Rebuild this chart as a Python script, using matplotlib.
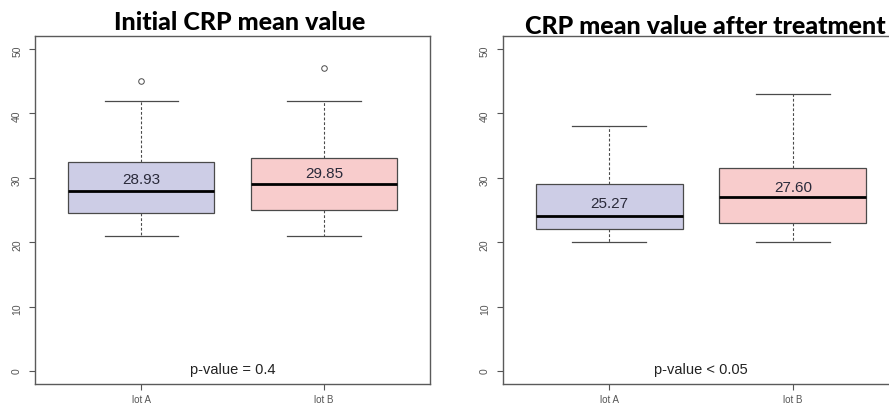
import matplotlib.pyplot as plt

# lot names and box statistics
lots = ['lot A', 'lot B']

init_low = [21, 21]
init_q1 = [24.5, 25]
init_med = [28, 29]
init_q3 = [32.5, 33]
init_high = [42, 42]
init_out = [[45], [47]]
init_mean = [28.93, 29.85]

after_low = [20, 20]
after_q1 = [22, 23]
after_med = [24, 27]
after_q3 = [29, 31.5]
after_high = [38, 43]
after_out = [[], []]
after_mean = [25.27, 27.60]

yticks = [0, 10, 20, 30, 40, 50]
fills = ['#cdcde6', '#f8cccc']
edge = '#4a4a4a'

plt.rcParams['font.family'] = ['Liberation Sans', 'DejaVu Sans']


def make_stats(low, q1, med, q3, high, out):
    stats = []
    for i in range(len(med)):
        stats.append({'whislo': low[i], 'q1': q1[i], 'med': med[i],
                      'q3': q3[i], 'whishi': high[i], 'fliers': out[i]})
    return stats


def draw_panel(ax, stats, means, ptext):
    bp = ax.bxp(stats, positions=[1, 2], widths=0.8, patch_artist=True,
                boxprops=dict(edgecolor=edge, linewidth=0.9),
                whiskerprops=dict(color=edge, linewidth=0.8, linestyle=(0, (2.5, 1.8))),
                capprops=dict(color=edge, linewidth=0.9),
                medianprops=dict(color='black', linewidth=2),
                flierprops=dict(marker='o', markersize=4, markerfacecolor='none',
                                markeredgecolor=edge, markeredgewidth=0.7),
                capwidths=0.4)
    for patch, c in zip(bp['boxes'], fills):
        patch.set_facecolor(c)

    for i, m in enumerate(means):
        ax.text(i + 1, m + 0.9, '%.2f' % m, ha='center', va='center',
                fontsize=11, color='#2a2a3a')
    ax.text(1.5, 0.3, ptext, ha='center', va='center', fontsize=10.5, color='#222222')

    ax.set_xlim(0.42, 2.58)
    ax.set_ylim(-2, 52)
    ax.set_yticks(yticks)
    ax.set_xticks([1, 2])
    ax.set_xticklabels(lots)
    ax.tick_params(axis='y', labelrotation=90, length=4.3, pad=5, labelsize=7.5,
                   colors='#555555')
    ax.tick_params(axis='x', length=4.3, pad=3, labelsize=7, colors='#555555')
    for s in ax.spines.values():
        s.set_color('#5a5a5a')
        s.set_linewidth(1)


fig = plt.figure(figsize=(8.89, 4.06), dpi=100)
ax1 = fig.add_axes([0.0394, 0.0517, 0.4443, 0.857])
ax2 = fig.add_axes([0.5655, 0.0517, 0.4461, 0.857])

draw_panel(ax1, make_stats(init_low, init_q1, init_med, init_q3, init_high, init_out),
           init_mean, 'p-value = 0.4')
draw_panel(ax2, make_stats(after_low, after_q1, after_med, after_q3, after_high, after_out),
           after_mean, 'p-value < 0.05')

fig.text(0.2694, 0.926, 'Initial CRP mean value', ha='center', va='baseline',
         fontsize=18, fontweight='black', family=['Lato', 'DejaVu Sans'])
fig.text(0.793, 0.916, 'CRP mean value after treatment', ha='center', va='baseline',
         fontsize=18, fontweight='black', family=['Lato', 'DejaVu Sans'])

fig.savefig('out.png', dpi=100)
